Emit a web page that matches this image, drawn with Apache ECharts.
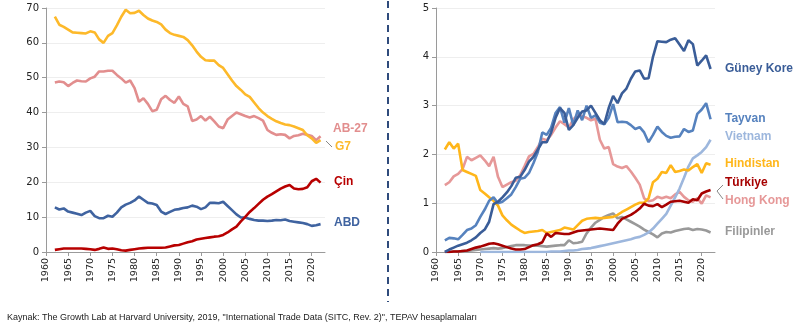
<!DOCTYPE html>
<html>
<head>
<meta charset="utf-8">
<script src="https://cdn.jsdelivr.net/npm/echarts@6/dist/echarts.min.js"></script>
<style>html,body{margin:0;padding:0;background:#fff;}#c{width:800px;height:328px;}</style>
</head>
<body>
<div id="c"></div>
<script>
const years = [1962,1963,1964,1965,1966,1967,1968,1969,1970,1971,1972,1973,1974,1975,1976,1977,1978,1979,1980,1981,1982,1983,1984,1985,1986,1987,1988,1989,1990,1991,1992,1993,1994,1995,1996,1997,1998,1999,2000,2001,2002,2003,2004,2005,2006,2007,2008,2009,2010,2011,2012,2013,2014,2015,2016,2017,2018,2019,2020,2021,2022];
const xTicks = [1960,1965,1970,1975,1980,1985,1990,1995,2000,2005,2010,2015,2020];

// Left panel
const g7 = [67.5,65.2,64.6,63.8,63.0,62.9,62.8,62.7,63.3,63.0,61.0,60.0,62.0,62.8,65.0,67.5,69.5,68.5,68.6,69.2,68.0,67.0,66.4,66.0,65.3,63.8,62.8,62.3,62.0,61.7,60.8,59.3,57.5,56.0,55.0,54.9,54.9,53.6,52.8,51.0,49.2,47.6,46.5,45.2,44.5,42.9,41.3,40.0,39.0,38.2,37.5,37.0,36.6,36.4,36.0,35.5,35.0,33.5,32.6,31.3,32.1];
const ab27 = [48.6,48.9,48.7,47.6,48.5,49.2,49.0,48.9,49.8,50.3,51.8,51.8,52.0,52.0,50.8,49.8,48.6,49.2,47.0,43.1,44.1,42.5,40.4,40.8,43.8,44.8,43.6,42.8,44.6,42.5,41.8,37.6,38.0,39.0,37.7,38.8,37.5,36.0,35.5,38.0,39.0,40.0,39.5,39.0,38.6,39.0,38.4,37.7,35.0,34.2,33.6,33.8,33.6,32.6,33.3,33.5,33.9,33.6,33.3,32.1,33.2];
const cin = [0.6,0.8,1.0,1.0,1.0,1.0,1.0,0.9,0.8,0.6,0.9,1.3,0.9,1.0,0.8,0.5,0.4,0.6,0.8,1.0,1.1,1.2,1.2,1.2,1.2,1.3,1.6,1.9,2.0,2.4,2.8,3.1,3.6,3.8,4.0,4.2,4.4,4.5,4.9,5.6,6.5,7.3,8.8,10.1,11.5,12.6,13.8,15.0,15.9,16.6,17.4,18.2,18.8,19.2,18.2,18.0,18.1,18.6,20.3,21.0,19.9];
const abd = [12.8,12.2,12.5,11.6,11.3,11.0,10.6,11.3,11.8,10.3,9.7,9.7,10.4,10.1,11.3,12.8,13.6,14.1,14.8,15.9,15.0,14.1,13.9,13.5,11.6,10.9,11.5,12.1,12.3,12.6,12.8,13.3,13.0,12.3,12.8,14.1,14.1,14.0,14.4,13.2,12.0,10.8,9.9,9.9,9.5,9.2,9.0,9.0,8.9,9.0,9.2,9.1,9.3,8.9,8.7,8.5,8.3,8.0,7.5,7.7,8.0];
const yTicksLeft = [0,10,20,30,40,50,60,70];

// Right panel
const guneyKore = [0.00,0.05,0.09,0.13,0.16,0.19,0.24,0.30,0.39,0.46,0.62,0.98,1.03,1.12,1.22,1.35,1.52,1.54,1.68,1.85,1.95,2.10,2.25,2.25,2.45,2.75,2.95,2.85,2.50,2.60,2.75,2.88,2.90,3.00,2.85,2.70,2.62,2.95,3.20,3.05,3.25,3.35,3.55,3.70,3.72,3.55,3.56,4.00,4.32,4.31,4.30,4.35,4.38,4.25,4.12,4.34,4.26,3.82,3.92,4.03,3.75];
const tayvan = [0.24,0.29,0.28,0.26,0.35,0.45,0.48,0.55,0.72,0.87,1.05,1.12,1.00,1.03,1.10,1.18,1.33,1.50,1.52,1.62,1.82,2.05,2.45,2.40,2.55,2.85,2.97,2.65,2.95,2.60,2.90,2.70,3.00,2.75,2.80,2.65,2.62,2.75,3.03,2.66,2.67,2.66,2.60,2.52,2.56,2.45,2.25,2.40,2.57,2.46,2.38,2.34,2.36,2.37,2.52,2.46,2.49,2.83,2.92,3.05,2.72];
const vietnam = [null,null,null,null,null,null,null,null,0.00,0.00,0.00,0.00,0.00,0.00,0.00,0.00,0.00,0.00,0.00,0.00,0.00,0.00,0.00,0.00,0.01,0.01,0.01,0.02,0.03,0.03,0.04,0.06,0.07,0.08,0.10,0.12,0.14,0.16,0.18,0.20,0.22,0.24,0.26,0.29,0.31,0.35,0.40,0.48,0.58,0.68,0.78,0.95,1.12,1.30,1.52,1.75,1.92,1.98,2.05,2.15,2.30];
const hindistan = [2.10,2.25,2.12,2.22,1.68,1.64,1.60,1.56,1.27,1.20,1.12,1.05,0.95,0.75,0.65,0.56,0.50,0.44,0.39,0.41,0.42,0.43,0.45,0.39,0.41,0.43,0.45,0.50,0.48,0.46,0.55,0.64,0.68,0.69,0.70,0.69,0.70,0.71,0.72,0.76,0.82,0.87,0.92,0.97,1.01,1.01,1.10,1.43,1.50,1.64,1.62,1.78,1.64,1.66,1.69,1.67,1.74,1.80,1.62,1.82,1.79];
const turkiye = [0.00,0.00,0.01,0.01,0.02,0.03,0.06,0.09,0.11,0.14,0.17,0.18,0.16,0.13,0.10,0.07,0.05,0.05,0.06,0.10,0.14,0.16,0.20,0.38,0.31,0.39,0.38,0.37,0.37,0.40,0.43,0.44,0.45,0.46,0.47,0.48,0.47,0.46,0.45,0.58,0.68,0.72,0.76,0.82,0.89,0.99,0.95,0.94,0.98,0.92,0.97,1.03,1.04,1.05,1.03,1.01,1.08,1.06,1.20,1.24,1.27];
const hongKong = [1.37,1.43,1.55,1.60,1.70,1.95,1.88,1.93,1.98,1.88,1.76,1.95,1.54,1.33,1.38,1.43,1.46,1.57,1.76,1.96,2.01,2.15,2.32,2.29,2.40,2.55,2.68,2.62,2.55,2.72,2.80,2.78,2.75,2.70,2.73,2.30,2.12,2.15,1.80,1.75,1.72,1.76,1.65,1.52,1.38,1.10,1.04,1.06,1.13,1.10,1.13,1.10,1.18,1.23,1.13,1.06,1.03,1.10,0.99,1.16,1.12];
const filipinler = [0.00,0.00,0.01,0.01,0.02,0.02,0.03,0.04,0.05,0.06,0.07,0.08,0.07,0.08,0.10,0.12,0.14,0.14,0.14,0.13,0.13,0.13,0.12,0.11,0.12,0.13,0.14,0.14,0.24,0.18,0.19,0.21,0.38,0.50,0.60,0.66,0.72,0.76,0.79,0.69,0.72,0.67,0.62,0.57,0.52,0.46,0.41,0.36,0.30,0.38,0.41,0.40,0.43,0.45,0.47,0.48,0.45,0.47,0.46,0.44,0.40];
const yTicksRight = [0,1,2,3,4,5];

const sourceText = 'Kaynak: The Growth Lab at Harvard University, 2019, "International Trade Data (SITC, Rev. 2)", TEPAV hesaplamaları';

function pairs(vals){ return years.map((y,i)=>[y, vals[i]]); }

const axisGray = '#9a9a9a';
function xAx(gi){
  return {
    type:'value', gridIndex:gi, min:1960, max:2023,
    axisLine:{show:true, lineStyle:{color:axisGray, width:1}},
    axisTick:{show:true, length:4, lineStyle:{color:axisGray}, customValues:xTicks},
    axisLabel:{rotate:90, margin:6, color:'#222', fontFamily:'DejaVu Sans', fontSize:9.5, customValues:xTicks,
      formatter:v=>String(v)},
    splitLine:{show:false}
  };
}
function yAx(gi, max, interval){
  return {
    type:'value', gridIndex:gi, min:0, max:max, interval:interval,
    axisLine:{show:true, lineStyle:{color:axisGray, width:1}},
    axisTick:{show:true, length:4, lineStyle:{color:axisGray}},
    axisLabel:{margin:7, color:'#222', fontFamily:'DejaVu Sans', fontSize:10, formatter:v=>String(v)},
    splitLine:{show:true, lineStyle:{color:'#eeeeee', width:1}}
  };
}
function line(name, vals, color, xi, z){
  return {name, type:'line', xAxisIndex:xi, yAxisIndex:xi, data:pairs(vals), showSymbol:false, symbol:'none',
    lineStyle:{color, width:2.6}, itemStyle:{color}, z:z||2, animation:false, connectNulls:false};
}
function lbl(x, y, text, color){
  return {type:'text', left:x, top:y-7, style:{text, fill:color, font:'bold 12px "Liberation Sans", Arial, sans-serif'}};
}

const C = {
  g7:'#FDB92A', ab27:'#E28E8E', cin:'#B80000', abd:'#3F63A0',
  kore:'#3A5D98', tayvan:'#5682BE', vietnam:'#9DB7DD', hindistan:'#FFB61A',
  turkiye:'#A60000', hk:'#E69898', fil:'#999999'
};

const chart = echarts.init(document.getElementById('c'), null, {renderer:'canvas'});
chart.setOption({
  animation:false,
  backgroundColor:'#fff',
  grid:[
    {left:46, right:475, top:8, bottom:76},
    {left:436, right:85, top:8, bottom:76}
  ],
  xAxis:[xAx(0), xAx(1)],
  yAxis:[yAx(0,70,10), yAx(1,5,1)],
  series:[
    line('AB-27', ab27, C.ab27, 0, 2),
    line('G7', g7, C.g7, 0, 3),
    line('ABD', abd, C.abd, 0, 3),
    line('Çin', cin, C.cin, 0, 4),
    line('Hong Kong', hongKong, C.hk, 1, 2),
    line('Filipinler', filipinler, C.fil, 1, 2),
    line('Vietnam', vietnam, C.vietnam, 1, 3),
    line('Hindistan', hindistan, C.hindistan, 1, 3),
    line('Türkiye', turkiye, C.turkiye, 1, 4),
    line('Tayvan', tayvan, C.tayvan, 1, 4),
    line('Güney Kore', guneyKore, C.kore, 1, 5)
  ],
  graphic:[
    {type:'line', shape:{x1:388, y1:1, x2:388, y2:302}, style:{stroke:'#2F4B7C', lineWidth:2, lineDash:[7,5]}},
    lbl(333,130,'AB-27',C.ab27),
    lbl(335,148,'G7',C.g7),
    {type:'line', shape:{x1:326, y1:141, x2:332, y2:147}, style:{stroke:'#888', lineWidth:1}},
    lbl(334,183,'Çin',C.cin),
    lbl(334,224,'ABD',C.abd),
    lbl(725,70,'Güney Kore',C.kore),
    lbl(725,120,'Tayvan',C.tayvan),
    lbl(725,138,'Vietnam',C.vietnam),
    lbl(725,165,'Hindistan',C.hindistan),
    lbl(725,184,'Türkiye',C.turkiye),
    lbl(725,202,'Hong Kong',C.hk),
    lbl(725,233,'Filipinler',C.fil),
    {type:'polyline', shape:{points:[[723,185],[717,191],[723,199]]}, style:{stroke:'#888', lineWidth:1, fill:null}},
    {type:'text', left:7, top:313, style:{text:sourceText, fill:'#222', font:'9px "Liberation Sans", Arial, sans-serif'}}
  ]
});
</script>
</body>
</html>
